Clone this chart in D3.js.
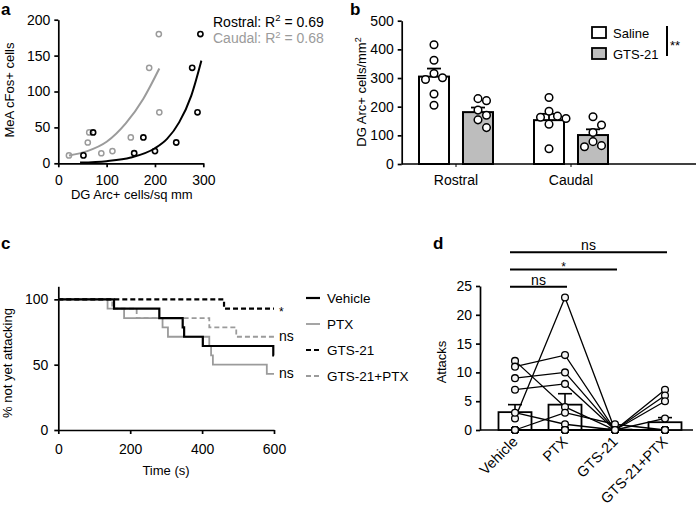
<!DOCTYPE html>
<html><head><meta charset="utf-8">
<script src="https://cdn.jsdelivr.net/npm/d3@7"></script>
<style>
body{margin:0;background:#fff;}
svg{display:block;}
</style></head><body>
<svg id="chart" width="700" height="508"></svg>
<script>
// ---------- Panel a data ----------
const rostralX = [52, 72, 157, 176, 200, 244, 277, 288, 294];
const rostralY = [11, 43, 14, 36, 17, 29, 133, 71, 180];
const caudalX = [22, 61, 64, 89, 112, 150, 188, 209, 208];
const caudalY = [11, 29, 43, 14, 17, 36, 133, 71, 180];
const rostralFitX = [45, 100, 150, 200, 225, 250, 275, 296];
const rostralFitY = [1, 3, 8, 21, 34, 57, 94, 143];
const caudalFitX = [22, 60, 100, 140, 176, 209];
const caudalFitY = [11, 17, 30, 56, 90, 132];
const aLegendNames = ["Rostral", "Caudal"];
const aLegendR2 = ["0.69", "0.68"];
const aXTicks = [0, 100, 200, 300];
const aYTicks = [0, 50, 100, 150, 200];

// ---------- Panel b data ----------
const regions = ["Rostral", "Caudal"];
const treatments = ["Saline", "GTS-21"];
const bMeans = [[305, 181], [153, 101]];
const bSEM = [[28, 16], [22, 20]];
const rostralSaline = [416, 362, 316, 301, 295, 244, 205];
const rostralGTS = [228, 221, 188, 170, 154, 127];
const caudalSaline = [232, 184, 167, 163, 159, 139, 53];
const caudalGTS = [165, 136, 110, 78, 64, 60];
const bYTicks = [0, 100, 200, 300, 400, 500];

// ---------- Panel c data ----------
const survGroups = ["Vehicle", "PTX", "GTS-21", "GTS-21+PTX"];
const vehTime = [0, 155, 281, 346, 350, 402, 598, 600];
const vehSurv = [100, 92.9, 85.7, 78.6, 71.4, 64.3, 57.1, 57.1];
const ptxTime = [0, 137, 183, 290, 305, 420, 425, 430, 580, 600];
const ptxSurv = [100, 92.9, 85.7, 78.6, 71.4, 64.3, 57.1, 50, 42.9, 42.9];
const gtsTime = [0, 461, 600];
const gtsSurv = [100, 92.9, 92.9];
const gtsPtxTime = [0, 150, 218, 420, 495, 600];
const gtsPtxSurv = [100, 92.9, 85.7, 78.6, 71.4, 71.4];
const survSig = ["", "ns", "*", "ns"];
const cXTicks = [0, 200, 400, 600];
const cYTicks = [0, 50, 100];

// ---------- Panel d data ----------
const conditions = ["Vehicle", "PTX", "GTS-21", "GTS-21+PTX"];
const animalAttacks = [
  [12, 4, 0, 0],
  [11, 13, 0, 7],
  [9, 10, 0, 6],
  [7, 8, 0, 5],
  [2, 23, 0, 0],
  [3, 1, 0, 2],
  [0, 3, 1, 0],
  [0, 0, 0, 0],
  [0, 0, 0, 0],
  [0, 0, 0, 0],
  [0, 0, 0, 0],
  [0, 0, 0, 0],
  [0, 0, 0, 0],
  [0, 0, 0, 0]
];
const dMeans = [3.1, 4.4, 0.07, 1.35];
const dSEM = [1.3, 1.9, 0.07, 0.8];
const dCompTo = ["PTX", "GTS-21", "GTS-21+PTX"];
const dCompLabel = ["ns", "*", "ns"];
const dYTicks = [0, 5, 10, 15, 20, 25];

// ---------- drawing ----------
const FONT = '"Liberation Sans", Arial, Helvetica, sans-serif';
const GRAY = "#9b9b9b";
const svg = d3.select("#chart").attr("font-family", FONT);

function styleAxis(g, fs) {
  g.attr("font-family", FONT).attr("font-size", fs || 14);
  g.selectAll("path.domain").attr("stroke", "#000").attr("stroke-width", 1.7);
  g.selectAll(".tick line").attr("stroke", "#000").attr("stroke-width", 1.7);
  g.selectAll(".tick text").attr("fill", "#000");
}
function panelLabel(t, x, y) {
  svg.append("text").attr("x", x).attr("y", y).text(t)
    .attr("font-size", 17).attr("font-weight", "bold").attr("fill", "#000");
}
function yTitle(x, y, parts) {
  const t = svg.append("text").attr("transform", `translate(${x},${y}) rotate(-90)`)
    .attr("text-anchor", "middle").attr("font-size", 13).attr("fill", "#000");
  parts.forEach(p => {
    const s = t.append("tspan").text(p.t);
    if (p.sup) s.attr("font-size", 9).attr("dy", -5);
  });
  return t;
}

// ===== Panel a =====
panelLabel("a", 1, 15);
const xa = d3.scaleLinear().domain([0, 300]).range([58.3, 203.3]);
const ya = d3.scaleLinear().domain([0, 200]).range([163.3, 19.7]);
svg.append("g").attr("transform", `translate(0,${ya(0)})`)
  .call(d3.axisBottom(xa).tickValues(aXTicks).tickSize(4).tickPadding(8).tickSizeOuter(0))
  .call(g => styleAxis(g, 14));
svg.append("g").attr("transform", `translate(${xa(0)},0)`)
  .call(d3.axisLeft(ya).tickValues(aYTicks).tickSize(4).tickPadding(4).tickSizeOuter(0))
  .call(g => styleAxis(g, 14));
yTitle(14, 90, [{t: "MeA cFos+ cells"}]);
svg.append("text").attr("x", (xa(0) + xa(300)) / 2 + 1).attr("y", 199).attr("text-anchor", "middle")
  .attr("font-size", 13).text("DG Arc+ cells/sq mm");

const fitLine = d3.line().x(d => xa(d[0])).y(d => ya(d[1])).curve(d3.curveMonotoneX);
svg.append("path").datum(caudalFitX.map((x, i) => [x, caudalFitY[i]]))
  .attr("d", fitLine).attr("fill", "none").attr("stroke", GRAY).attr("stroke-width", 2);
svg.append("path").datum(rostralFitX.map((x, i) => [x, rostralFitY[i]]))
  .attr("d", fitLine).attr("fill", "none").attr("stroke", "#000").attr("stroke-width", 2);
svg.append("g").selectAll("circle").data(caudalX.map((x, i) => [x, caudalY[i]])).join("circle")
  .attr("cx", d => xa(d[0])).attr("cy", d => ya(d[1])).attr("r", 2.6)
  .attr("fill", "none").attr("stroke", GRAY).attr("stroke-width", 1.5);
svg.append("g").selectAll("circle").data(rostralX.map((x, i) => [x, rostralY[i]])).join("circle")
  .attr("cx", d => xa(d[0])).attr("cy", d => ya(d[1])).attr("r", 2.6)
  .attr("fill", "none").attr("stroke", "#000").attr("stroke-width", 1.6);
aLegendNames.forEach((n, i) => {
  const t = svg.append("text").attr("x", 213).attr("y", 26.5 + i * 16.8)
    .attr("font-size", 14).attr("fill", i === 0 ? "#000" : GRAY);
  t.append("tspan").text(n + ": R");
  t.append("tspan").text("2").attr("font-size", 9.5).attr("dy", -5.5);
  t.append("tspan").text(" = " + aLegendR2[i]).attr("dy", 5.5);
});

// ===== Panel b =====
panelLabel("b", 350, 15);
const yb = d3.scaleLinear().domain([0, 500]).range([164, 20.7]);
const xb = d3.scaleBand().domain(regions).range([398.5, 628.5]);
const xbi = d3.scaleBand().domain(treatments).range([-37, 37]).paddingInner(0.318);
const bx0 = 401.7, bx1 = 696;
svg.append("g").attr("transform", `translate(${bx0},0)`)
  .call(d3.axisLeft(yb).tickValues(bYTicks).tickSize(4).tickPadding(4).tickSizeOuter(0))
  .call(g => styleAxis(g, 14));
const bxAxis = svg.append("g").attr("transform", `translate(0,${yb(0)})`)
  .call(d3.axisBottom(xb).tickSize(3).tickPadding(8).tickSizeOuter(0))
  .call(g => styleAxis(g, 14));
bxAxis.select("path.domain").remove();
bxAxis.selectAll(".tick line").attr("stroke-width", 1);
svg.append("line").attr("x1", bx0).attr("x2", bx1).attr("y1", yb(0)).attr("y2", yb(0))
  .attr("stroke", "#000").attr("stroke-width", 1.7);
yTitle(366, 92, [{t: "DG Arc+ cells/mm"}, {t: "2", sup: true}]);

const bPoints = [[rostralSaline, rostralGTS], [caudalSaline, caudalGTS]];
const bFill = ["#fff", "#bdbdbd"];
regions.forEach((r, ri) => {
  treatments.forEach((t, ti) => {
    const cx = xb(r) + xb.bandwidth() / 2 + xbi(t) + xbi.bandwidth() / 2;
    const bw = xbi.bandwidth();
    const m = bMeans[ri][ti], s = bSEM[ri][ti];
    svg.append("rect").attr("x", cx - bw / 2).attr("y", yb(m)).attr("width", bw).attr("height", yb(0) - yb(m))
      .attr("fill", bFill[ti]).attr("stroke", "#000").attr("stroke-width", 2);
    svg.append("line").attr("x1", cx).attr("x2", cx).attr("y1", yb(m)).attr("y2", yb(m + s))
      .attr("stroke", "#000").attr("stroke-width", 1.8);
    svg.append("line").attr("x1", cx - 7).attr("x2", cx + 7).attr("y1", yb(m + s)).attr("y2", yb(m + s))
      .attr("stroke", "#000").attr("stroke-width", 1.8);
    // simple beeswarm
    const r0 = 3.8, step = 8.5;
    const placed = [];
    const vals = bPoints[ri][ti].slice().sort((a, b) => b - a);
    vals.forEach(v => {
      const py = yb(v);
      const offs = [0, 1, -1, 2, -2];
      let px = cx;
      for (const o of offs) {
        const tx = cx + o * step;
        if (placed.every(p => Math.hypot(p[0] - tx, p[1] - py) >= 2 * r0 + 0.8)) { px = tx; break; }
      }
      placed.push([px, py]);
    });
    svg.append("g").selectAll("circle").data(placed).join("circle")
      .attr("cx", d => d[0]).attr("cy", d => d[1]).attr("r", r0)
      .attr("fill", "#fff").attr("stroke", "#000").attr("stroke-width", 1.5);
  });
});
// legend b
treatments.forEach((t, i) => {
  const y = 27 + i * 21;
  svg.append("rect").attr("x", 592).attr("y", y).attr("width", 14).attr("height", 11)
    .attr("fill", bFill[i]).attr("stroke", "#000").attr("stroke-width", 1.8);
  svg.append("text").attr("x", 613).attr("y", y + 10.5).attr("font-size", 13).text(t);
});
svg.append("line").attr("x1", 667).attr("x2", 667).attr("y1", 26).attr("y2", 56)
  .attr("stroke", "#000").attr("stroke-width", 2);
svg.append("text").attr("x", 670).attr("y", 50).attr("font-size", 13).text("**");

// ===== Panel c =====
panelLabel("c", 1, 249);
const xc = d3.scaleLinear().domain([0, 600]).range([58.3, 274]);
const yc = d3.scaleLinear().domain([0, 110]).range([430, 286.3]);
svg.append("g").attr("transform", `translate(0,${yc(0)})`)
  .call(d3.axisBottom(xc).tickValues(cXTicks).tickSize(4).tickPadding(10).tickSizeOuter(0))
  .call(g => styleAxis(g, 14));
svg.append("g").attr("transform", `translate(${xc(0)},0)`)
  .call(d3.axisLeft(yc).tickValues(cYTicks).tickSize(4).tickPadding(6).tickSizeOuter(0))
  .call(g => styleAxis(g, 14));
yTitle(12, 363, [{t: "% not yet attacking"}]);
svg.append("text").attr("x", 166).attr("y", 475).attr("text-anchor", "middle")
  .attr("font-size", 13).text("Time (s)");

const survTimes = [vehTime, ptxTime, gtsTime, gtsPtxTime];
const survVals = [vehSurv, ptxSurv, gtsSurv, gtsPtxSurv];
const survColor = ["#000", GRAY, "#000", GRAY];
const survDash = [null, null, "5,3", "5,3"];
const survWidth = [2.2, 1.8, 2.2, 1.8];
const stepLine = d3.line().x(d => xc(d[0])).y(d => yc(d[1])).curve(d3.curveStepAfter);
[1, 3, 0, 2].forEach(i => {
  svg.append("path").datum(survTimes[i].map((t, j) => [t, survVals[i][j]]))
    .attr("d", stepLine).attr("fill", "none").attr("stroke", survColor[i])
    .attr("stroke-width", survWidth[i]).attr("stroke-dasharray", survDash[i]);
});
survGroups.forEach((g, i) => {
  const lastV = survVals[i][survVals[i].length - 1];
  if (survSig[i]) {
    const star = survSig[i] === "*";
    svg.append("text").attr("x", xc(600) + 5).attr("y", yc(lastV))
      .attr("dy", star ? "0.58em" : "0.3em").attr("font-size", star ? 12 : 14).text(survSig[i]);
  }
  const ly = 298 + i * 26;
  svg.append("line").attr("x1", 306).attr("x2", 320).attr("y1", ly).attr("y2", ly)
    .attr("stroke", survColor[i]).attr("stroke-width", survWidth[i]).attr("stroke-dasharray", survDash[i]);
  svg.append("text").attr("x", 327).attr("y", ly).attr("dy", "0.35em").attr("font-size", 13.5).text(g);
});

// ===== Panel d =====
panelLabel("d", 433, 249);
const yd = d3.scaleLinear().domain([0, 25]).range([430, 286]);
const xd = d3.scaleBand().domain(conditions).range([490, 690]).paddingInner(0.34).paddingOuter(0.17);
const dx0 = 480;
svg.append("g").attr("transform", `translate(${dx0},0)`)
  .call(d3.axisLeft(yd).tickValues(dYTicks).tickSize(4).tickPadding(4).tickSizeOuter(0))
  .call(g => styleAxis(g, 14));
svg.append("line").attr("x1", dx0).attr("x2", 693).attr("y1", yd(0)).attr("y2", yd(0))
  .attr("stroke", "#000").attr("stroke-width", 1.7);
yTitle(446, 362, [{t: "Attacks"}]);
conditions.forEach((c, i) => {
  const cx = xd(c) + xd.bandwidth() / 2;
  svg.append("text").attr("transform", `translate(${cx},${yd(0) + 9}) rotate(-45)`)
    .attr("text-anchor", "end").attr("dy", "0.35em").attr("font-size", 14.5).text(c);
});
const dcx = c => xd(c) + xd.bandwidth() / 2;
conditions.forEach((c, i) => {
  const bw = xd.bandwidth();
  svg.append("rect").attr("x", xd(c)).attr("y", yd(dMeans[i])).attr("width", bw)
    .attr("height", yd(0) - yd(dMeans[i])).attr("fill", "#fff").attr("stroke", "#000").attr("stroke-width", 1.8);
});
conditions.forEach((c, i) => {
  const cx = dcx(c), top = yd(dMeans[i] + dSEM[i]);
  svg.append("line").attr("x1", cx).attr("x2", cx).attr("y1", yd(dMeans[i])).attr("y2", top)
    .attr("stroke", "#000").attr("stroke-width", 1.6);
  svg.append("line").attr("x1", cx - 7).attr("x2", cx + 7).attr("y1", top).attr("y2", top)
    .attr("stroke", "#000").attr("stroke-width", 1.6);
});
const animalLine = d3.line().x((d, i) => dcx(conditions[i])).y(d => yd(d));
svg.append("g").selectAll("path").data(animalAttacks).join("path")
  .attr("d", animalLine).attr("fill", "none").attr("stroke", "#000").attr("stroke-width", 1.3);
animalAttacks.forEach(a => {
  a.forEach((v, i) => {
    svg.append("circle").attr("cx", dcx(conditions[i])).attr("cy", yd(v)).attr("r", 3.4)
      .attr("fill", "#f4f4f4").attr("stroke", "#000").attr("stroke-width", 1.3);
  });
});
dCompTo.forEach((c, i) => {
  const y = yd(25) + 0.7 - i * 17.2;
  const x1 = dcx("Vehicle") - 5, x2 = dcx(c) + 2;
  svg.append("line").attr("x1", x1).attr("x2", x2).attr("y1", y).attr("y2", y)
    .attr("stroke", "#000").attr("stroke-width", 2);
  const star = dCompLabel[i] === "*";
  svg.append("text").attr("x", (x1 + x2) / 2).attr("y", star ? y + 1.5 : y - 2)
    .attr("text-anchor", "middle").attr("font-size", star ? 12 : 14).text(dCompLabel[i]);
});
</script>
</body></html>
